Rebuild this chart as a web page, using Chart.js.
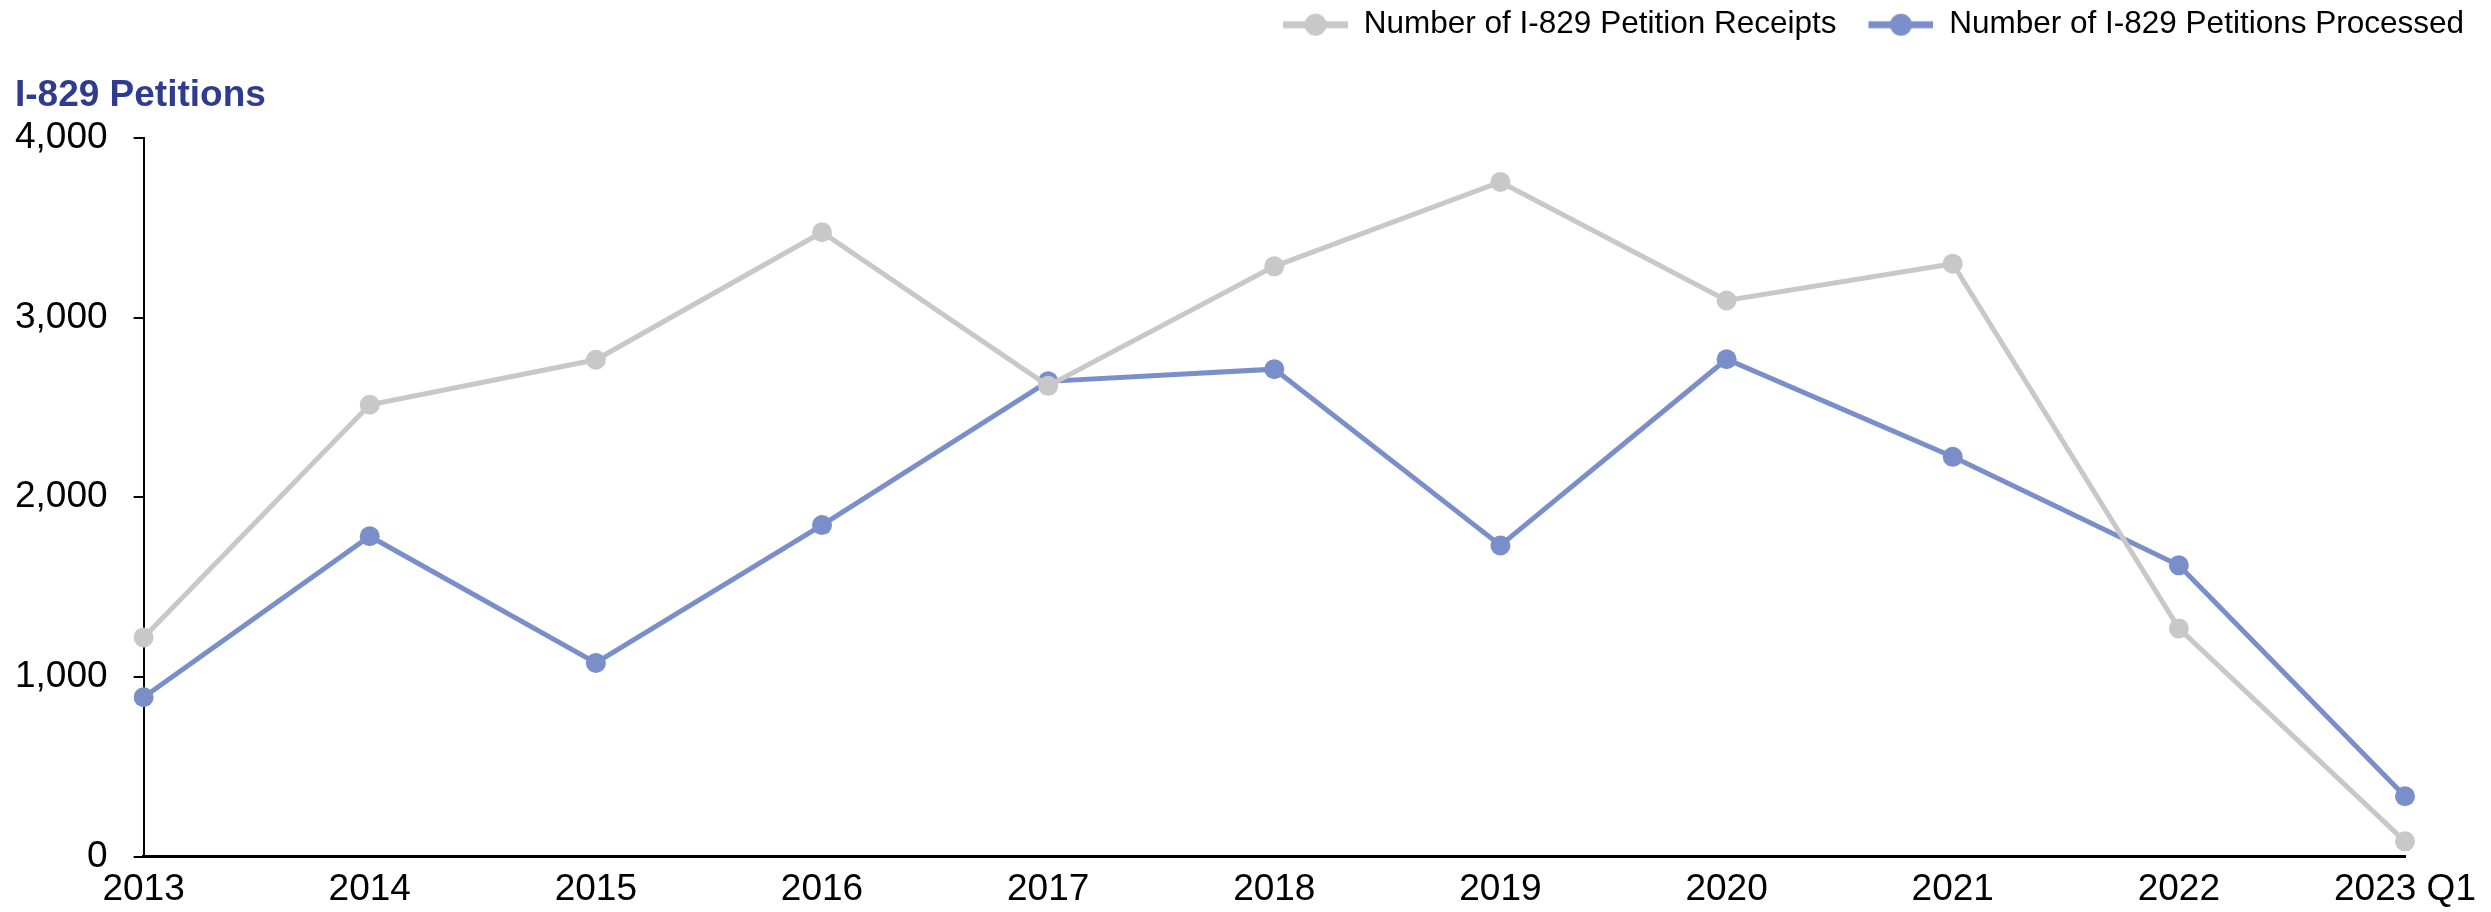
<!DOCTYPE html>
<html>
<head>
<meta charset="utf-8">
<script src="https://cdn.jsdelivr.net/npm/chart.js@4/dist/chart.umd.min.js"></script>
<style>
  html, body { margin: 0; padding: 0; background: #fff; }
  #wrap { width: 2491px; height: 912px; }
</style>
</head>
<body>
<div id="wrap"><canvas id="chart" width="2491" height="912"></canvas></div>
<script>
const years = ["2013", "2014", "2015", "2016", "2017", "2018", "2019", "2020", "2021", "2022", "2023 Q1"];
const receipts = [1220, 2515, 2765, 3475, 2620, 3285, 3755, 3095, 3300, 1270, 85];
const processed = [887, 1783, 1078, 1845, 2645, 2713, 1732, 2768, 2225, 1621, 336];
const yTicks = [0, 1000, 2000, 3000, 4000];

const grey = "#c8c8c8";
const blue = "#7a8fca";
const font = "'Liberation Sans', Arial, sans-serif";

// legend icon: short line with a dot, left part kept blank as spacing
function legendIcon(color) {
    const c = document.createElement("canvas");
    c.width = 93;
    c.height = 24;
    const ctx = c.getContext("2d");
    ctx.strokeStyle = color;
    ctx.lineWidth = 7;
    ctx.beginPath();
    ctx.moveTo(28, 12);
    ctx.lineTo(93, 12);
    ctx.stroke();
    ctx.fillStyle = color;
    ctx.beginPath();
    ctx.arc(60.5, 12, 11, 0, Math.PI * 2);
    ctx.fill();
    return c;
}
const icons = [legendIcon(grey), legendIcon(blue)];

new Chart(document.getElementById("chart"), {
    type: "line",
    data: {
        labels: years,
        datasets: [
            {
                label: "Number of I-829 Petition Receipts",
                data: receipts,
                borderColor: grey,
                backgroundColor: grey,
                borderWidth: 5,
                pointRadius: 10,
                pointBorderWidth: 0,
                tension: 0
            },
            {
                label: "Number of I-829 Petitions Processed",
                data: processed,
                borderColor: blue,
                backgroundColor: blue,
                borderWidth: 5,
                pointRadius: 10,
                pointBorderWidth: 0,
                tension: 0
            }
        ]
    },
    options: {
        responsive: false,
        animation: false,
        layout: { padding: { left: 15, right: 23, top: 5, bottom: 3 } },
        plugins: {
            legend: {
                position: "top",
                align: "end",
                weight: 3000,
                labels: {
                    usePointStyle: true,
                    pointStyleWidth: 93,
                    padding: 4,
                    color: "#000",
                    font: { family: font, size: 31.5 },
                    generateLabels: function (chart) {
                        const items = Chart.defaults.plugins.legend.labels.generateLabels(chart);
                        items.forEach((it, i) => { it.pointStyle = icons[i]; });
                        return items;
                    }
                }
            },
            title: {
                display: true,
                text: "I-829 Petitions",
                align: "start",
                weight: 500,
                color: "#2f3b8f",
                font: { family: font, size: 37, weight: "bold" },
                padding: { top: 23, bottom: 20 }
            },
            tooltip: { enabled: false }
        },
        scales: {
            x: {
                offset: false,
                grid: { display: false },
                border: { display: true, color: "#000", width: 3 },
                afterFit: function (scale) {
                    // tighten the label band under the axis
                    scale.height -= 6;
                    scale.paddingRight = 86;
                },
                ticks: {
                    color: "#000",
                    maxRotation: 0,
                    autoSkip: false,
                    padding: 3,
                    font: { family: font, size: 37 }
                }
            },
            y: {
                min: 0,
                max: 4000,
                afterBuildTicks: function (scale) {
                    scale.ticks = yTicks.map(v => ({ value: v }));
                },
                afterFit: function (scale) {
                    scale.width -= 26;
                },
                grid: {
                    display: true,
                    drawOnChartArea: false,
                    drawTicks: true,
                    tickLength: 10,
                    color: "#000",
                    lineWidth: 2
                },
                border: { display: true, color: "#000", width: 2 },
                ticks: {
                    color: "#000",
                    padding: 26,
                    font: { family: font, size: 37 },
                    callback: v => v.toLocaleString("en-US")
                }
            }
        }
    }
});
</script>
</body>
</html>
